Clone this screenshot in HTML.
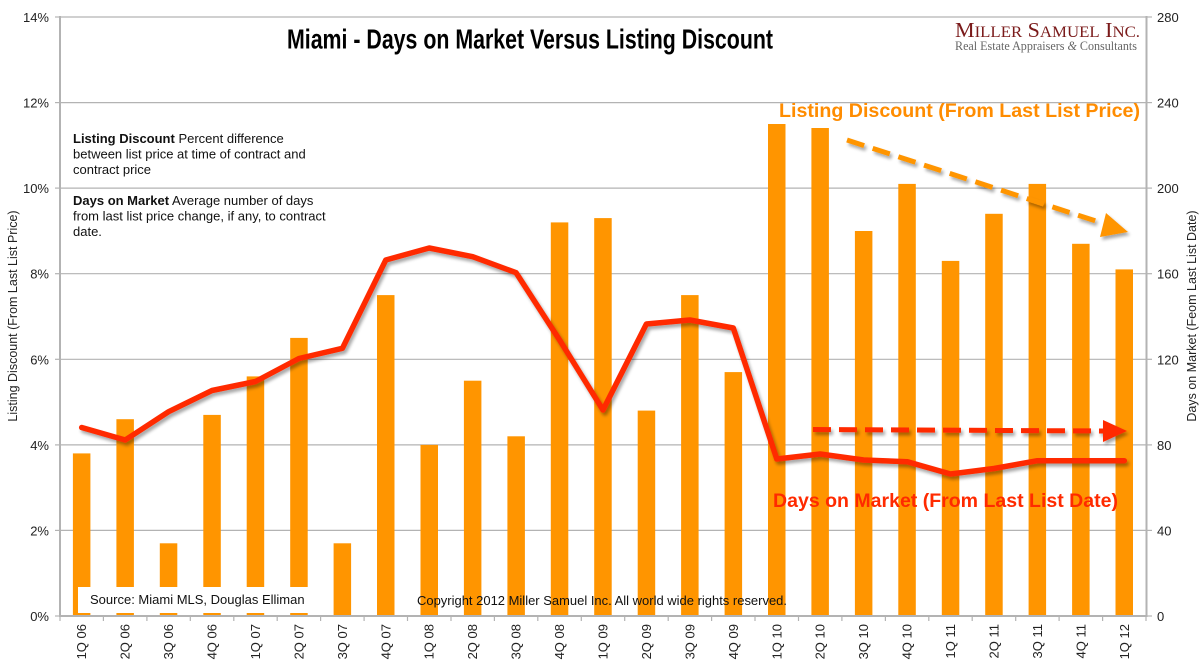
<!DOCTYPE html>
<html><head><meta charset="utf-8"><style>
html,body{margin:0;padding:0;background:#fff;}
svg{display:block;}
text{font-family:"Liberation Sans",Arial,sans-serif;}
</style></head><body>
<svg width="1200" height="672" viewBox="0 0 1200 672" xmlns="http://www.w3.org/2000/svg">
<defs>
<filter id="sh" x="-5%" y="-5%" width="110%" height="120%">
<feGaussianBlur in="SourceAlpha" stdDeviation="1.5"/>
<feOffset dx="2" dy="3" result="b"/>
<feComponentTransfer><feFuncA type="linear" slope="0.35"/></feComponentTransfer>
<feMerge><feMergeNode/><feMergeNode in="SourceGraphic"/></feMerge>
</filter>
</defs>
<rect width="1200" height="672" fill="#fff"/>
<g stroke="#b3b3b3" stroke-width="1.2">
<line x1="60" y1="17" x2="1146" y2="17"/>
<line x1="60" y1="102.6" x2="1146" y2="102.6"/>
<line x1="60" y1="188.1" x2="1146" y2="188.1"/>
<line x1="60" y1="273.7" x2="1146" y2="273.7"/>
<line x1="60" y1="359.3" x2="1146" y2="359.3"/>
<line x1="60" y1="444.9" x2="1146" y2="444.9"/>
<line x1="60" y1="530.4" x2="1146" y2="530.4"/>
</g>
<g fill="#FF9500">
<rect x="72.9" y="453.4" width="17.5" height="162.6"/>
<rect x="116.4" y="419.2" width="17.5" height="196.8"/>
<rect x="159.8" y="543.3" width="17.5" height="72.7"/>
<rect x="203.3" y="414.9" width="17.5" height="201.1"/>
<rect x="246.7" y="376.4" width="17.5" height="239.6"/>
<rect x="290.2" y="337.9" width="17.5" height="278.1"/>
<rect x="333.6" y="543.3" width="17.5" height="72.7"/>
<rect x="377.0" y="295.1" width="17.5" height="320.9"/>
<rect x="420.5" y="444.9" width="17.5" height="171.1"/>
<rect x="463.9" y="380.7" width="17.5" height="235.3"/>
<rect x="507.4" y="436.3" width="17.5" height="179.7"/>
<rect x="550.8" y="222.4" width="17.5" height="393.6"/>
<rect x="594.2" y="218.1" width="17.5" height="397.9"/>
<rect x="637.7" y="410.6" width="17.5" height="205.4"/>
<rect x="681.1" y="295.1" width="17.5" height="320.9"/>
<rect x="724.6" y="372.1" width="17.5" height="243.9"/>
<rect x="768.0" y="124.0" width="17.5" height="492.0"/>
<rect x="811.4" y="128.0" width="17.5" height="488.0"/>
<rect x="854.9" y="231.0" width="17.5" height="385.0"/>
<rect x="898.3" y="183.9" width="17.5" height="432.1"/>
<rect x="941.8" y="260.9" width="17.5" height="355.1"/>
<rect x="985.2" y="213.8" width="17.5" height="402.2"/>
<rect x="1028.6" y="183.9" width="17.5" height="432.1"/>
<rect x="1072.1" y="243.8" width="17.5" height="372.2"/>
<rect x="1115.5" y="269.4" width="17.5" height="346.6"/>
</g>
<g stroke="#b3b3b3" stroke-width="2">
<line x1="60" y1="16" x2="60" y2="617"/>
<line x1="1146.5" y1="16" x2="1146.5" y2="617"/>
<line x1="59" y1="616" x2="1147" y2="616"/>
</g>
<g stroke="#b3b3b3" stroke-width="1.2">
<line x1="55" y1="17" x2="60" y2="17"/><line x1="55" y1="102.6" x2="60" y2="102.6"/><line x1="55" y1="188.1" x2="60" y2="188.1"/><line x1="55" y1="273.7" x2="60" y2="273.7"/><line x1="55" y1="359.3" x2="60" y2="359.3"/><line x1="55" y1="444.9" x2="60" y2="444.9"/><line x1="55" y1="530.4" x2="60" y2="530.4"/><line x1="55" y1="616" x2="60" y2="616"/>
<line x1="1146" y1="17" x2="1152" y2="17"/><line x1="1146" y1="102.6" x2="1152" y2="102.6"/><line x1="1146" y1="188.1" x2="1152" y2="188.1"/><line x1="1146" y1="273.7" x2="1152" y2="273.7"/><line x1="1146" y1="359.3" x2="1152" y2="359.3"/><line x1="1146" y1="444.9" x2="1152" y2="444.9"/><line x1="1146" y1="530.4" x2="1152" y2="530.4"/><line x1="1146" y1="616" x2="1152" y2="616"/>
<line x1="60" y1="616" x2="60" y2="621"/><line x1="103.4" y1="616" x2="103.4" y2="621"/><line x1="146.9" y1="616" x2="146.9" y2="621"/><line x1="190.3" y1="616" x2="190.3" y2="621"/><line x1="233.8" y1="616" x2="233.8" y2="621"/><line x1="277.2" y1="616" x2="277.2" y2="621"/><line x1="320.6" y1="616" x2="320.6" y2="621"/><line x1="364.1" y1="616" x2="364.1" y2="621"/><line x1="407.5" y1="616" x2="407.5" y2="621"/><line x1="451" y1="616" x2="451" y2="621"/><line x1="494.4" y1="616" x2="494.4" y2="621"/><line x1="537.8" y1="616" x2="537.8" y2="621"/><line x1="581.3" y1="616" x2="581.3" y2="621"/><line x1="624.7" y1="616" x2="624.7" y2="621"/><line x1="668.2" y1="616" x2="668.2" y2="621"/><line x1="711.6" y1="616" x2="711.6" y2="621"/><line x1="755" y1="616" x2="755" y2="621"/><line x1="798.5" y1="616" x2="798.5" y2="621"/><line x1="841.9" y1="616" x2="841.9" y2="621"/><line x1="885.4" y1="616" x2="885.4" y2="621"/><line x1="928.8" y1="616" x2="928.8" y2="621"/><line x1="972.2" y1="616" x2="972.2" y2="621"/><line x1="1015.7" y1="616" x2="1015.7" y2="621"/><line x1="1059.1" y1="616" x2="1059.1" y2="621"/><line x1="1102.6" y1="616" x2="1102.6" y2="621"/><line x1="1146" y1="616" x2="1146" y2="621"/>
</g>
<rect x="78" y="587" width="233" height="26" fill="#fff"/>
<text x="90" y="604" font-size="13" fill="#111">Source: Miami MLS, Douglas Elliman</text>
<text x="417" y="605" font-size="12.5" fill="#111" textLength="370" lengthAdjust="spacingAndGlyphs">Copyright 2012 Miller Samuel Inc. All world wide rights reserved.</text>
<polyline filter="url(#sh)" fill="none" stroke="#FF2A00" stroke-width="5.5" stroke-linejoin="round" stroke-linecap="round"
points="81.7,427.5 125.2,440 168.6,411.7 212,390.5 255.5,381.5 298.9,358.5 342.4,348.3 385.8,260 429.2,248 472.7,256.7 516.1,272.7 559.6,340 603,410 646.4,324 689.9,320 733.3,328 776.8,459 820.2,454 863.6,460 907.1,461.7 950.5,474 994,468.5 1037.4,460.7 1080.8,460.7 1124.3,460.7"/>
<g filter="url(#sh)">
<line x1="847" y1="140" x2="1105" y2="224" stroke="#FF9500" stroke-width="5" stroke-dasharray="18,9"/>
<polygon points="1128,232 1106,213 1100,237" fill="#FF9500"/>
<line x1="813" y1="429.5" x2="1104" y2="431" stroke="#FF2A00" stroke-width="5" stroke-dasharray="18,8"/>
<polygon points="1127,431 1103,420 1103,442" fill="#FF2A00"/>
</g>
<text x="779" y="117" font-size="19.5" font-weight="bold" fill="#FF8C00" textLength="361" lengthAdjust="spacingAndGlyphs">Listing Discount (From Last List Price)</text>
<text x="773" y="507" font-size="19" font-weight="bold" fill="#FF2A00" textLength="345" lengthAdjust="spacingAndGlyphs">Days on Market (From Last List Date)</text>
<text x="287" y="48.5" font-size="27.5" font-weight="bold" fill="#000" textLength="486" lengthAdjust="spacingAndGlyphs">Miami - Days on Market Versus Listing Discount</text>
<text x="955" y="37" style="font-family:'Liberation Serif',serif" font-size="21" fill="#7a1a1a" textLength="185" lengthAdjust="spacingAndGlyphs">M<tspan font-size="16">ILLER</tspan> S<tspan font-size="16">AMUEL</tspan> I<tspan font-size="16">NC.</tspan></text>
<text x="955" y="50" style="font-family:'Liberation Serif',serif" font-size="13" fill="#666" textLength="182" lengthAdjust="spacingAndGlyphs">Real Estate Appraisers <tspan font-style="italic">&amp;</tspan> Consultants</text>
<g font-size="13" fill="#111">
<text x="73" y="143"><tspan font-weight="bold">Listing Discount</tspan> Percent difference</text>
<text x="73" y="158.5">between list price at time of contract and</text>
<text x="73" y="174">contract price</text>
<text x="73" y="205"><tspan font-weight="bold">Days on Market</tspan> Average number of days</text>
<text x="73" y="220.5">from last list price change, if any, to contract</text>
<text x="73" y="236">date.</text>
</g>
<g font-size="13" fill="#222" text-anchor="end">
<text x="49" y="22">14%</text><text x="49" y="107.6">12%</text><text x="49" y="193.1">10%</text><text x="49" y="278.7">8%</text><text x="49" y="364.3">6%</text><text x="49" y="449.9">4%</text><text x="49" y="535.4">2%</text><text x="49" y="621">0%</text>
</g>
<g font-size="13" fill="#222">
<text x="1157" y="22">280</text><text x="1157" y="107.6">240</text><text x="1157" y="193.1">200</text><text x="1157" y="278.7">160</text><text x="1157" y="364.3">120</text><text x="1157" y="449.9">80</text><text x="1157" y="535.4">40</text><text x="1157" y="621">0</text>
</g>
<text transform="translate(17,316) rotate(-90)" font-size="12.5" fill="#222" text-anchor="middle">Listing Discount (From Last List Price)</text>
<text transform="translate(1196,316) rotate(-90)" font-size="12.5" fill="#222" text-anchor="middle">Days on Market (Feom Last List Date)</text>
<g font-size="13" fill="#222" text-anchor="end">
<text transform="translate(86.2,624) rotate(-90)">1Q 06</text>
<text transform="translate(129.7,624) rotate(-90)">2Q 06</text>
<text transform="translate(173.1,624) rotate(-90)">3Q 06</text>
<text transform="translate(216.5,624) rotate(-90)">4Q 06</text>
<text transform="translate(260,624) rotate(-90)">1Q 07</text>
<text transform="translate(303.4,624) rotate(-90)">2Q 07</text>
<text transform="translate(346.9,624) rotate(-90)">3Q 07</text>
<text transform="translate(390.3,624) rotate(-90)">4Q 07</text>
<text transform="translate(433.7,624) rotate(-90)">1Q 08</text>
<text transform="translate(477.2,624) rotate(-90)">2Q 08</text>
<text transform="translate(520.6,624) rotate(-90)">3Q 08</text>
<text transform="translate(564.1,624) rotate(-90)">4Q 08</text>
<text transform="translate(607.5,624) rotate(-90)">1Q 09</text>
<text transform="translate(650.9,624) rotate(-90)">2Q 09</text>
<text transform="translate(694.4,624) rotate(-90)">3Q 09</text>
<text transform="translate(737.8,624) rotate(-90)">4Q 09</text>
<text transform="translate(781.3,624) rotate(-90)">1Q 10</text>
<text transform="translate(824.7,624) rotate(-90)">2Q 10</text>
<text transform="translate(868.1,624) rotate(-90)">3Q 10</text>
<text transform="translate(911.6,624) rotate(-90)">4Q 10</text>
<text transform="translate(955,624) rotate(-90)">1Q 11</text>
<text transform="translate(998.5,624) rotate(-90)">2Q 11</text>
<text transform="translate(1041.9,624) rotate(-90)">3Q 11</text>
<text transform="translate(1085.3,624) rotate(-90)">4Q 11</text>
<text transform="translate(1128.8,624) rotate(-90)">1Q 12</text>
</g>
</svg>
</body></html>
